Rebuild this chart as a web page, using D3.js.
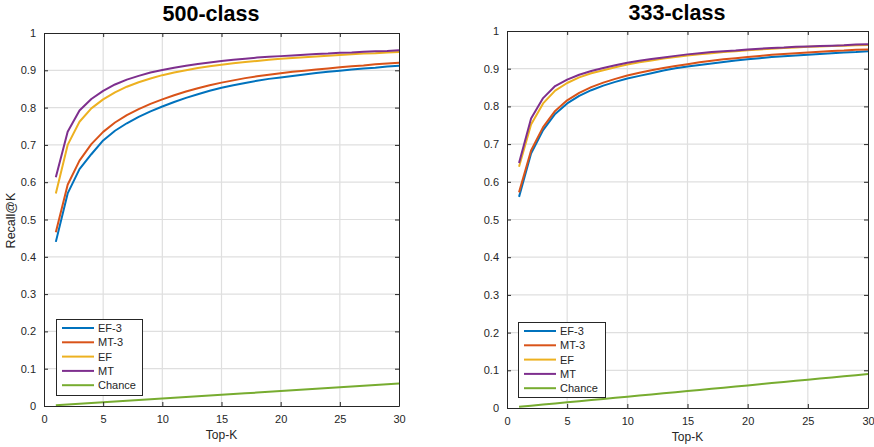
<!DOCTYPE html>
<html>
<head>
<meta charset="utf-8">
<script src="https://cdn.jsdelivr.net/npm/d3@7"></script>
<style>
  html, body { margin: 0; padding: 0; background: #fff; }
  svg { display: block; font-family: "Liberation Sans", Arial, Helvetica, sans-serif; }
</style>
</head>
<body>
<svg id="chart" width="874" height="447"></svg>
<script>
// Top-K values shared by both panels
const topK = d3.range(1, 31);
const xTicks = [0, 5, 10, 15, 20, 25, 30];
const yTicks = [0, 0.1, 0.2, 0.3, 0.4, 0.5, 0.6, 0.7, 0.8, 0.9, 1];

const seriesNames = ["EF-3", "MT-3", "EF", "MT", "Chance"];
const seriesColors = ["#0072BD", "#D95319", "#EDB120", "#7E2F8E", "#77AC30"];

// 500-class recall@K
const ef3_500 = [0.440, 0.570, 0.635, 0.675, 0.712, 0.738, 0.758, 0.775, 0.790, 0.803,
                 0.815, 0.826, 0.836, 0.845, 0.853, 0.860, 0.866, 0.872, 0.877, 0.881,
                 0.885, 0.889, 0.893, 0.896, 0.899, 0.902, 0.905, 0.907, 0.910, 0.912];
const mt3_500 = [0.466, 0.593, 0.658, 0.702, 0.735, 0.760, 0.780, 0.796, 0.810, 0.822,
                 0.833, 0.843, 0.852, 0.860, 0.867, 0.873, 0.879, 0.884, 0.888, 0.892,
                 0.896, 0.899, 0.902, 0.905, 0.908, 0.911, 0.913, 0.916, 0.918, 0.920];
const ef_500  = [0.570, 0.700, 0.762, 0.798, 0.822, 0.841, 0.856, 0.868, 0.878, 0.887,
                 0.894, 0.900, 0.906, 0.911, 0.915, 0.919, 0.922, 0.925, 0.928, 0.931,
                 0.933, 0.935, 0.937, 0.939, 0.941, 0.943, 0.945, 0.946, 0.948, 0.949];
const mt_500  = [0.613, 0.735, 0.792, 0.823, 0.845, 0.862, 0.875, 0.885, 0.894, 0.901,
                 0.907, 0.912, 0.917, 0.921, 0.925, 0.928, 0.931, 0.934, 0.936, 0.938,
                 0.940, 0.942, 0.944, 0.945, 0.947, 0.948, 0.950, 0.951, 0.952, 0.954];
const chance_500 = [0.002, 0.004, 0.006, 0.008, 0.010, 0.012, 0.014, 0.016, 0.018, 0.020,
                    0.022, 0.024, 0.026, 0.028, 0.030, 0.032, 0.034, 0.036, 0.038, 0.040,
                    0.042, 0.044, 0.046, 0.048, 0.050, 0.052, 0.054, 0.056, 0.058, 0.060];

// 333-class recall@K
const ef3_333 = [0.560, 0.675, 0.737, 0.780, 0.808, 0.828, 0.843, 0.855, 0.865, 0.874,
                 0.881, 0.888, 0.895, 0.901, 0.906, 0.910, 0.914, 0.918, 0.922, 0.925,
                 0.928, 0.931, 0.933, 0.935, 0.937, 0.939, 0.941, 0.943, 0.944, 0.946];
const mt3_333 = [0.572, 0.683, 0.745, 0.788, 0.816, 0.836, 0.851, 0.863, 0.873, 0.882,
                 0.889, 0.896, 0.902, 0.907, 0.912, 0.917, 0.921, 0.925, 0.928, 0.931,
                 0.934, 0.937, 0.939, 0.941, 0.943, 0.945, 0.947, 0.948, 0.950, 0.951];
const ef_333  = [0.640, 0.752, 0.808, 0.842, 0.862, 0.877, 0.888, 0.896, 0.904, 0.911,
                 0.917, 0.922, 0.927, 0.931, 0.935, 0.938, 0.941, 0.944, 0.946, 0.949,
                 0.951, 0.953, 0.955, 0.956, 0.958, 0.959, 0.960, 0.961, 0.962, 0.963];
const mt_333  = [0.650, 0.768, 0.822, 0.854, 0.871, 0.884, 0.894, 0.902, 0.909, 0.916,
                 0.921, 0.926, 0.930, 0.934, 0.938, 0.941, 0.944, 0.946, 0.948, 0.951,
                 0.953, 0.955, 0.956, 0.958, 0.959, 0.960, 0.961, 0.962, 0.964, 0.965];
const chance_333 = [0.003, 0.006, 0.009, 0.012, 0.015, 0.018, 0.021, 0.024, 0.027, 0.030,
                    0.033, 0.036, 0.039, 0.042, 0.045, 0.048, 0.051, 0.054, 0.057, 0.060,
                    0.063, 0.066, 0.069, 0.072, 0.075, 0.078, 0.081, 0.084, 0.087, 0.090];

const panels = [
  { title: "500-class", titleX: 211, titleY: 21, left: 44, right: 399, top: 33, bottom: 406,
    ylabel: "Recall@K",
    series: [ef3_500, mt3_500, ef_500, mt_500, chance_500],
    legend: { x: 56, y: 319, w: 86, h: 76 } },
  { title: "333-class", titleX: 677, titleY: 20, left: 507, right: 868, top: 31, bottom: 408,
    ylabel: null,
    series: [ef3_333, mt3_333, ef_333, mt_333, chance_333],
    legend: { x: 518, y: 322, w: 87, h: 75 } }
];

const svg = d3.select("#chart");
const axisColor = "#262626";
const gridColor = "#dfdfdf";

panels.forEach(p => {
  const x = d3.scaleLinear().domain([0, 30]).range([p.left, p.right]);
  const y = d3.scaleLinear().domain([0, 1]).range([p.bottom, p.top]);
  const g = svg.append("g");

  // grid
  g.append("g").selectAll("line").data(xTicks.slice(1, -1)).join("line")
    .attr("x1", d => x(d)).attr("x2", d => x(d))
    .attr("y1", p.top).attr("y2", p.bottom)
    .attr("stroke", gridColor).attr("stroke-width", 1.2);
  g.append("g").selectAll("line").data(yTicks.slice(1, -1)).join("line")
    .attr("x1", p.left).attr("x2", p.right)
    .attr("y1", d => y(d)).attr("y2", d => y(d))
    .attr("stroke", gridColor).attr("stroke-width", 1.2);

  // series lines
  const line = d3.line().x((d, i) => x(topK[i])).y(d => y(d));
  p.series.forEach((s, i) => {
    g.append("path").datum(s)
      .attr("d", line)
      .attr("fill", "none")
      .attr("stroke", seriesColors[i])
      .attr("stroke-width", 2)
      .attr("stroke-linejoin", "round");
  });

  // axes with inward ticks on all four sides
  const styleAxis = sel => {
    sel.attr("font-family", null);
    sel.select(".domain").attr("stroke", axisColor).attr("stroke-width", 1);
    sel.selectAll(".tick line").attr("stroke", axisColor);
    sel.selectAll(".tick text").attr("fill", axisColor).style("font-size", "11px");
  };
  g.append("g").attr("transform", `translate(0,${p.bottom})`)
    .call(d3.axisBottom(x).tickValues(xTicks).tickFormat(d3.format("d"))
      .tickSizeInner(-4).tickSizeOuter(0).tickPadding(9))
    .call(styleAxis);
  g.append("g").attr("transform", `translate(0,${p.top})`)
    .call(d3.axisTop(x).tickValues(xTicks).tickFormat("")
      .tickSizeInner(-4).tickSizeOuter(0))
    .call(styleAxis);
  g.append("g").attr("transform", `translate(${p.left},0)`)
    .call(d3.axisLeft(y).tickValues(yTicks)
      .tickFormat(d => d === 0 || d === 1 ? String(d) : d3.format(".1f")(d))
      .tickSizeInner(-4).tickSizeOuter(0).tickPadding(8))
    .call(styleAxis);
  g.append("g").attr("transform", `translate(${p.right},0)`)
    .call(d3.axisRight(y).tickValues(yTicks).tickFormat("")
      .tickSizeInner(-4).tickSizeOuter(0))
    .call(styleAxis);

  // titles and labels
  g.append("text").attr("x", p.titleX).attr("y", p.titleY)
    .attr("text-anchor", "middle").attr("fill", "#000")
    .style("font-size", "21.5px").style("font-weight", "bold")
    .text(p.title);
  g.append("text").attr("x", (p.left + p.right) / 2).attr("y", p.bottom + 33)
    .attr("text-anchor", "middle").attr("fill", axisColor)
    .style("font-size", "12px").text("Top-K");
  if (p.ylabel) {
    g.append("text")
      .attr("transform", `translate(${p.left - 29.5},${(p.top + p.bottom) / 2 + 1}) rotate(-90)`)
      .attr("text-anchor", "middle").attr("fill", axisColor)
      .style("font-size", "12.5px").text(p.ylabel);
  }

  // legend
  const L = p.legend;
  const lg = g.append("g");
  lg.append("rect").attr("x", L.x + 0.5).attr("y", L.y + 0.5)
    .attr("width", L.w).attr("height", L.h)
    .attr("fill", "#fff").attr("stroke", axisColor).attr("stroke-width", 1);
  const rowH = 14.3;
  seriesNames.forEach((name, i) => {
    const ry = L.y + 9 + i * rowH;
    lg.append("line").attr("x1", L.x + 6).attr("x2", L.x + 38)
      .attr("y1", ry).attr("y2", ry)
      .attr("stroke", seriesColors[i]).attr("stroke-width", 2);
    lg.append("text").attr("x", L.x + 42).attr("y", ry + 4)
      .attr("fill", axisColor).style("font-size", "11px").text(name);
  });
});
</script>
</body>
</html>
